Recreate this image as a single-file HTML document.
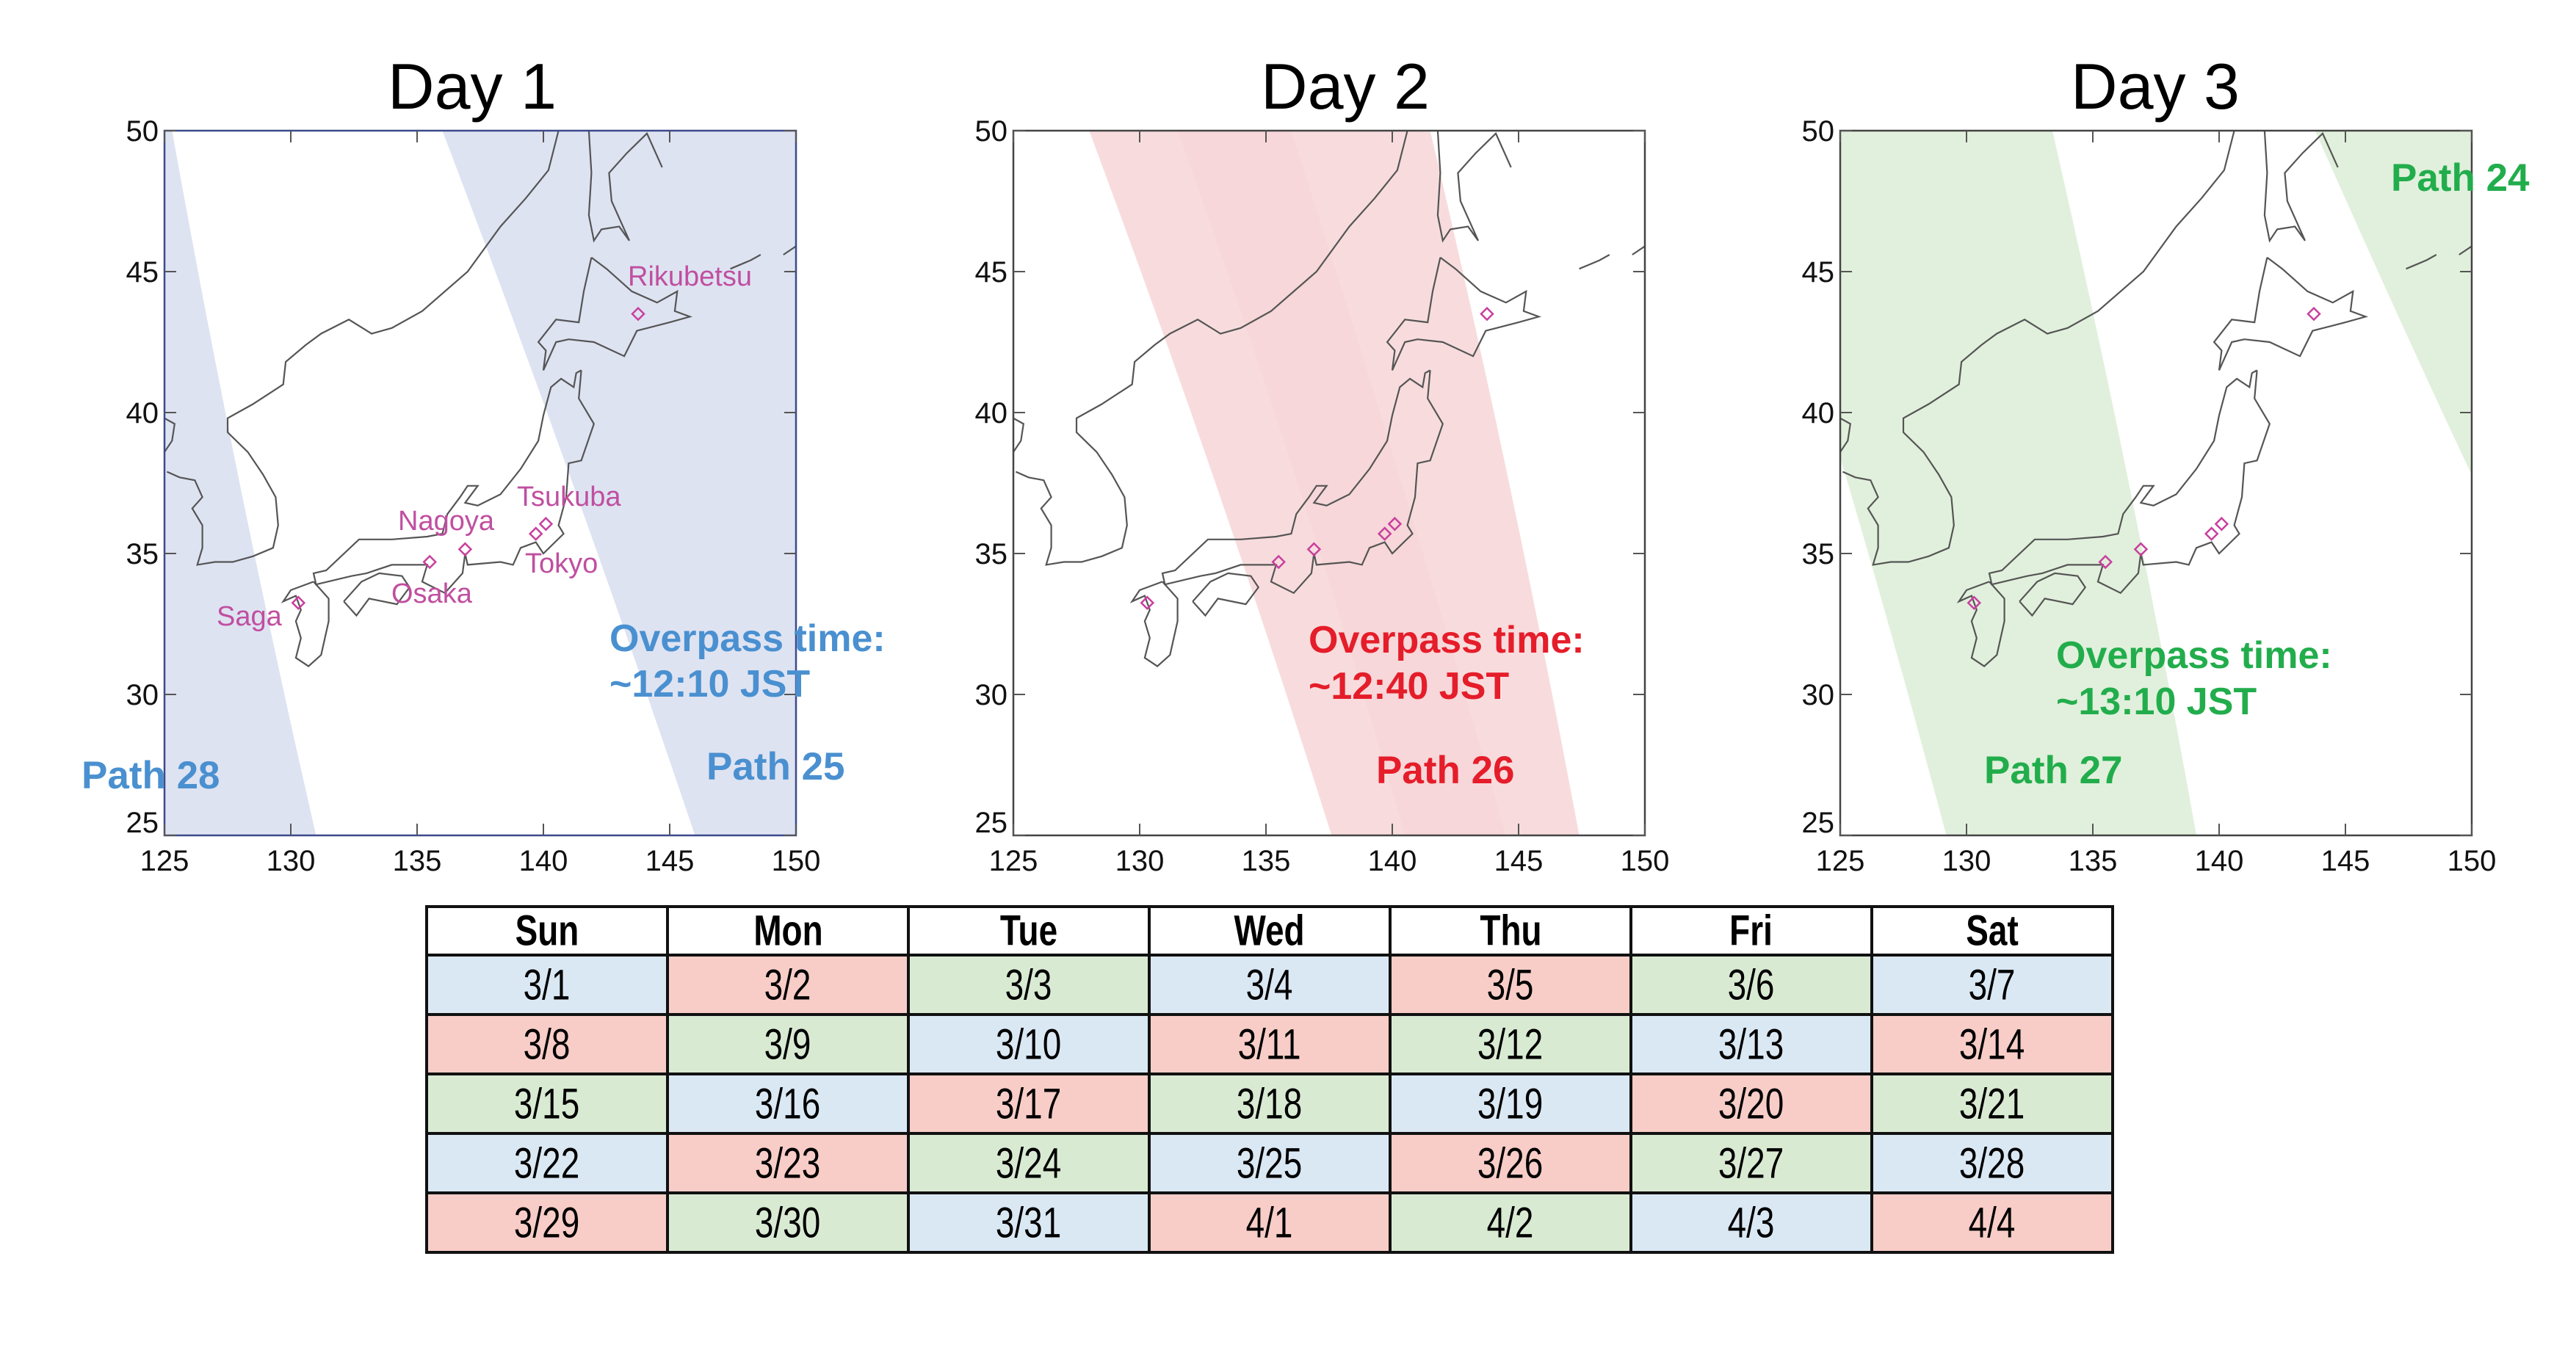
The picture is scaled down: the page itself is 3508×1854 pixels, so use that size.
<!DOCTYPE html>
<html><head><meta charset="utf-8"><style>
html,body{margin:0;padding:0;background:#fff;}
body{width:3508px;height:1854px;position:relative;overflow:hidden;font-family:"Liberation Sans",sans-serif;}
svg{position:absolute;left:0;top:0;}
table{position:absolute;left:579px;top:1233px;border-collapse:collapse;font-family:"Liberation Sans Narrow","Liberation Sans",sans-serif;}
td{width:324px;text-align:center;border:4px solid #111;font-size:54px;padding:0;}
td span{display:inline-block;transform:scale(0.85,1.08);}
tr.h td{height:58px;font-weight:bold;background:#fff;}
tr.d td{height:77px;}
.b{background:#dae8f4}.r{background:#f8cdc7}.g{background:#d9ead3}
</style></head><body>
<svg id="s" width="3508" height="1854" xmlns="http://www.w3.org/2000/svg"></svg>
<table id="t"></table>
<script>
const X0=[224,1380,2506],Y0=178,SX=34.4,SY=38.4;
function P(p,lon,lat){return [(X0[p]+(lon-125)*SX).toFixed(1),(Y0+(50-lat)*SY).toFixed(1)];}
function poly(p,pts){return pts.map(q=>P(p,q[0],q[1]).join(',')).join(' ');}
function curve(p,a,b,c,n){let r=[];for(let i=0;i<=n;i++){let t=i/n;r.push([(1-t)*(1-t)*a[0]+2*t*(1-t)*b[0]+t*t*c[0],(1-t)*(1-t)*a[1]+2*t*(1-t)*b[1]+t*t*c[1]]);}return r;}
function band(p,l,r,col){let L=curve(p,l[0],l[1],l[2],20),R=curve(p,r[0],r[1],r[2],20).reverse();return `<polygon points="${poly(p,L.concat(R))}" fill="${col}"/>`;}
const coasts=[
[[125,39.8],[125.4,39.6],[125.3,39.0],[125.0,38.6]],
[[125.1,37.9],[125.6,37.7],[126.2,37.6],[126.5,37.0],[126.1,36.6],[126.5,36.0],[126.5,35.2],[126.3,34.6],[127,34.7],[127.7,34.7],[128.5,34.9],[129.3,35.2],[129.5,36],[129.4,37],[128.9,37.8],[128.3,38.6],[127.5,39.3],[127.5,39.8],[128.5,40.3],[129.7,41],[129.8,41.8],[130.6,42.4],[131.2,42.8],[132.3,43.3],[133.2,42.8],[134,43.0],[135.2,43.6],[137,45],[138.3,46.6],[139.3,47.6],[140.2,48.6],[140.6,50]],
[[141.8,50],[141.9,48.5],[141.8,47.0],[142.0,46.1],[142.3,46.5],[143.0,46.6],[143.4,46.1],[142.7,47.5],[142.6,48.5],[143.3,49.2],[144.1,49.9],[144.7,48.7]],
[[141.9,45.5],[142.5,45.1],[143.5,44.3],[144.5,43.9],[145.3,44.3],[145.2,43.6],[145.8,43.4],[145.0,43.2],[143.7,42.9],[143.2,42.0],[142,42.5],[141,42.6],[140.5,42.5],[140.0,41.5],[140.1,42.2],[139.8,42.5],[140.5,43.3],[141.4,43.2],[141.6,44.3],[141.9,45.5]],
[[141.5,41.5],[141.4,40.5],[142.0,39.6],[141.5,38.3],[141,38.2],[140.9,37],[140.6,36],[140.8,35.7],[140.0,35.0],[139.7,35.4],[139.1,35.2],[138.8,34.6],[138.3,34.7],[137,34.6],[136.9,35],[136.8,34.3],[136.1,33.6],[135.2,34],[135.4,34.6],[134,34.6],[133,34.3],[132.4,34.2],[131,33.9],[130.9,34.3],[131.4,34.4],[132.7,35.5],[134,35.5],[135.4,35.6],[136,35.7],[136.2,36.4],[136.7,37],[137,37.4],[137.4,37.4],[136.9,36.8],[137.4,36.7],[138.3,37.1],[139.1,38],[139.8,39],[140,39.9],[140.3,40.9],[140.7,41.2],[141.2,40.9],[141.3,41.4],[141.5,41.5]],
[[132.1,33.3],[132.6,32.8],[133.1,33.4],[134.2,33.2],[134.7,33.8],[134.4,34.2],[133.5,34.3],[132.8,34],[132.1,33.3]],
[[130.9,34],[131.5,33.4],[131.5,32.6],[131.2,31.4],[130.7,31.0],[130.2,31.3],[130.4,32],[130.2,32.6],[130.4,33],[130.2,33.5],[129.7,33.3],[130,33.7],[130.9,34]],
[[147.4,45.1],[148.2,45.4],[148.6,45.6]],[[149.5,45.6],[150,45.9]]
];
const sites=[[130.3,33.25],[135.5,34.7],[136.9,35.15],[139.7,35.7],[140.1,36.05],[143.75,43.5]];
let h='';
const titles=['Day 1','Day 2','Day 3'],tc=[643,1832,2935];
const cfg=[
 {bands:[[[[125.3,50],[127.8,37.5],[131,25]],[[124,50],[124,37.5],[124,25]],'#dee3f2'],[[[136,50],[141.3,37.5],[146,25]],[[152,50],[152,37.5],[152,25]],'#dee3f2']],frame:'#3c4a8c'},
 {bands:[[[[128,50],[133.2,37.5],[137.6,25]],[[141.5,50],[144.8,37.5],[147.4,25]],'#f8dcdd'],[[[131.5,50],[136.5,37.5],[140.5,25]],[[136,50],[140.5,37.5],[144.5,25]],'#f7d7d9']],frame:'#444'},
 {bands:[[[[121,50],[125.5,37.5],[129.2,25]],[[133.4,50],[136.6,37.5],[139.1,25]],'#e1f0dc'],[[[143.8,50],[147,43.5],[150.2,37.4]],[[152,50],[152,43.5],[152,37.4]],'#e1f0dc']],frame:'#444'}
];
for(let p=0;p<3;p++){
 const x0=X0[p],x1=x0+860,y1=Y0+960;
 h+=`<clipPath id="c${p}"><rect x="${x0}" y="${Y0}" width="860" height="960"/></clipPath><g clip-path="url(#c${p})">`;
 cfg[p].bands.forEach(b=>h+=band(p,b[0],b[1],b[2]));
 coasts.forEach(c=>h+=`<polyline points="${poly(p,c)}" fill="none" stroke="#555" stroke-width="2.2"/>`);
 sites.forEach(s=>{let [x,y]=P(p,s[0],s[1]);x=+x;y=+y;h+=`<polygon points="${x},${y-8} ${x+8},${y} ${x},${y+8} ${x-8},${y}" fill="none" stroke="#c8409e" stroke-width="2.5"/>`;});
 h+='</g>';
 h+=`<rect x="${x0}" y="${Y0}" width="860" height="960" fill="none" stroke="${cfg[p].frame}" stroke-width="2.5"/>`;
 for(let i=0;i<=5;i++){let x=x0+i*172,y=Y0+i*192;
  h+=`<line x1="${x}" y1="${Y0}" x2="${x}" y2="${Y0+16}" stroke="#555" stroke-width="2"/><line x1="${x}" y1="${y1}" x2="${x}" y2="${y1-16}" stroke="#555" stroke-width="2"/>`;
  h+=`<line x1="${x0}" y1="${y}" x2="${x0+16}" y2="${y}" stroke="#555" stroke-width="2"/><line x1="${x1}" y1="${y}" x2="${x1-16}" y2="${y}" stroke="#555" stroke-width="2"/>`;
  h+=`<text x="${x}" y="1186" font-size="40" text-anchor="middle" fill="#111">${125+5*i}</text>`;
  h+=`<text x="${x0-8}" y="${(i==5?y-4:y+14)}" font-size="40" text-anchor="end" fill="#111">${50-5*i}</text>`;
 }
 h+=`<text x="${tc[p]}" y="148" font-size="88" text-anchor="middle" fill="#000">${titles[p]}</text>`;
}
const T=(x,y,t,c,s,w)=>`<text x="${x}" y="${y}" font-size="${s}" font-weight="${w||'bold'}" fill="${c}">${t}</text>`;
const bl='#4a90d0',rd='#e51d2a',gr='#22ad4c',mg='#c04fa0';
h+=T(830,887,'Overpass time:',bl,52)+T(830,949,'~12:10 JST',bl,52)+T(111,1074,'Path 28',bl,53)+T(962,1062,'Path 25',bl,53);
h+=T(855,389,'Rikubetsu',mg,38,'normal')+T(704,689,'Tsukuba',mg,38,'normal')+T(542,722,'Nagoya',mg,38,'normal')+T(715,780,'Tokyo',mg,38,'normal')+T(533,821,'Osaka',mg,38,'normal')+T(295,852,'Saga',mg,38,'normal');
h+=T(1782,889,'Overpass time:',rd,52)+T(1782,952,'~12:40 JST',rd,52)+T(1874,1067,'Path 26',rd,53);
h+=T(2800,910,'Overpass time:',gr,52)+T(2800,973,'~13:10 JST',gr,52)+T(2702,1067,'Path 27',gr,53)+T(3256,260,'Path 24',gr,53);
document.getElementById('s').innerHTML=h;
const days=['Sun','Mon','Tue','Wed','Thu','Fri','Sat'];
let t='<tr class="h">'+days.map(d=>`<td><span>${d}</span></td>`).join('')+'</tr>';
const cls=['b','r','g'];
for(let r=0;r<5;r++){t+='<tr class="d">';for(let c=0;c<7;c++){let k=r*7+c,n=k+1,lab=n<=31?'3/'+n:'4/'+(n-31);t+=`<td class="${cls[k%3]}"><span>${lab}</span></td>`;}t+='</tr>';}
document.getElementById('t').innerHTML=t;
</script>
</body></html>
